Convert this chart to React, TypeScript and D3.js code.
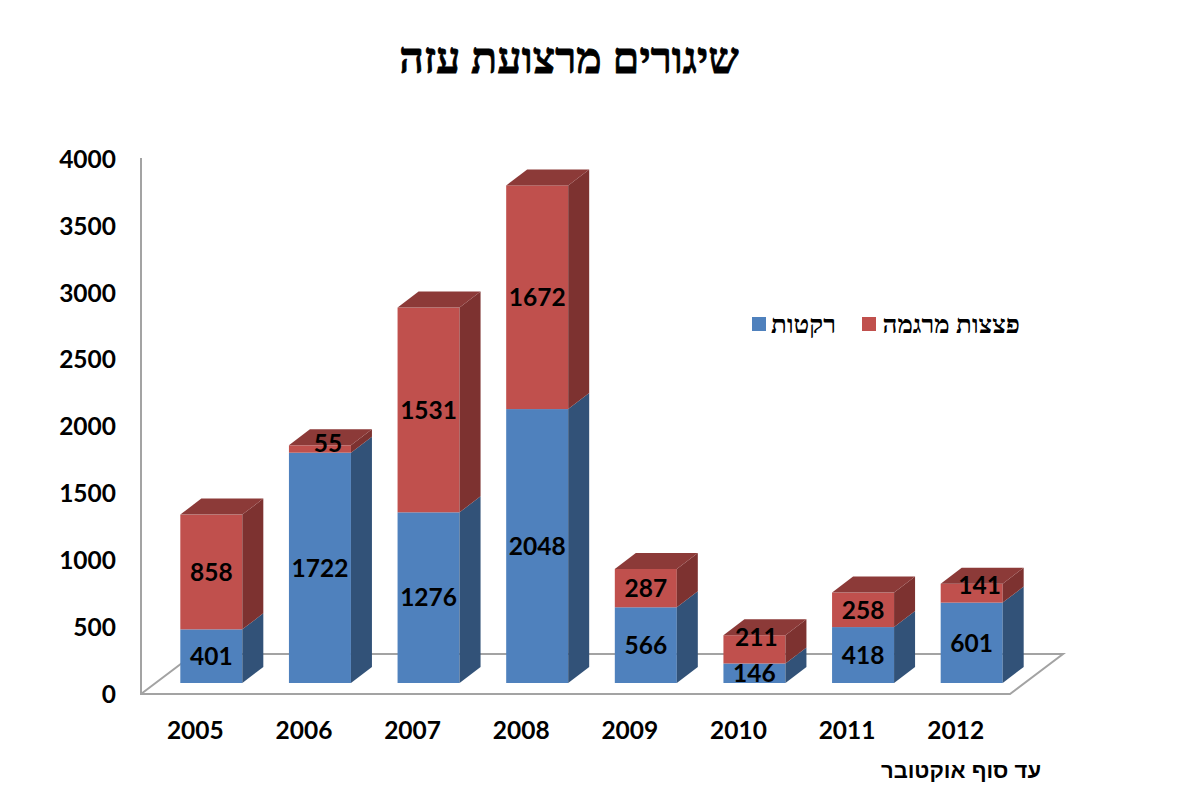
import * as d3 from 'd3';
import React from 'react';

const years = ['2005', '2006', '2007', '2008', '2009', '2010', '2011', '2012'];
const rockets = [401, 1722, 1276, 2048, 566, 146, 418, 601];
const mortars = [858, 55, 1531, 1672, 287, 211, 258, 141];
const yTicks = [0, 500, 1000, 1500, 2000, 2500, 3000, 3500, 4000];

const titleText = 'שיגורים מרצועת עזה';
const rocketsLabel = 'רקטות';
const mortarsLabel = 'פצצות מרגמה';
const noteText = 'עד סוף אוקטובר';

const w = 1199;
const h = 808;
const left = 141;
const right = 1010;
const floorY = 693;
const topY = 158;
const depthX = 21;
const depthY = 16;
const wallX = 53;
const wallY = 40;
const barW = 62;
const barShift = 16; // bars stand in the middle of the floor depth
const baseLift = 10;

const numFont = 'Lato, Carlito, sans-serif';
const hebFont = '"Liberation Serif", serif';

const colors = {
  rockets: { front: '#4f81bd', side: '#325278', top: '#3f6797' },
  mortars: { front: '#c0504d', side: '#7d3230', top: '#8c3a38' },
};

// labels that Excel moved off the segment centre because it is too thin
const labelNudge: Record<string, [number, number]> = {
  'mortars-55': [8, -6],
  'mortars-141': [8, -8],
  'mortars-211': [2, -12],
};

export default function App() {
  const x = d3.scaleBand<string>().domain(years).range([left, right]);
  const y = d3.scaleLinear().domain([0, 4000]).range([floorY, topY]);

  const rows = years.map((year, i) => ({ year, rockets: rockets[i], mortars: mortars[i] }));
  const series = d3.stack<any>().keys(['rockets', 'mortars'])(rows);

  const poly = d3.line();

  const bars: React.ReactNode[] = [];
  const labels: React.ReactNode[] = [];
  years.forEach((year, i) => {
    const x0 = (x(year) as number) + x.bandwidth() / 2 + barShift - barW / 2;
    const x1 = x0 + barW;
    series.forEach((s) => {
      const key = s.key as 'rockets' | 'mortars';
      const c = colors[key];
      const yb = y(s[i][0]) - baseLift;
      const yt = y(s[i][1]) - baseLift;
      bars.push(
        <g key={`${year}-${key}`}>
          <rect x={x0} y={yt} width={barW} height={yb - yt} fill={c.front} />
          <path
            d={poly([[x1, yb], [x1 + depthX, yb - depthY], [x1 + depthX, yt - depthY], [x1, yt]]) + 'Z'}
            fill={c.side}
          />
          {key === 'mortars' && (
            <path
              d={poly([[x0, yt], [x0 + depthX, yt - depthY], [x1 + depthX, yt - depthY], [x1, yt]]) + 'Z'}
              fill={c.top}
            />
          )}
        </g>,
      );
      const value = s[i][1] - s[i][0];
      const nudge = labelNudge[`${key}-${value}`] ?? [0, 0];
      labels.push(
        <text
          key={`l-${year}-${key}`}
          x={(x0 + x1) / 2 + nudge[0]}
          y={(yb + yt) / 2 + nudge[1]}
          dy='0.36em'
          textAnchor='middle'
          style={{ font: `700 24.5px ${numFont}` }}>
          {value}
        </text>,
      );
    });
  });

  return (
    <svg
      width={w}
      height={h}
      style={{ position: 'absolute', left: 0, top: 0, backgroundColor: 'white' }}>
      <text
        x={569}
        y={73}
        textAnchor='middle'
        direction='rtl'
        stroke='black'
        strokeWidth={0.8}
        style={{ font: `700 43px ${hebFont}` }}>
        {titleText}
      </text>

      <path
        d={
          poly([
            [left, floorY + 1],
            [left + wallX, floorY + 1 - wallY],
            [right + wallX, floorY + 1 - wallY],
            [right, floorY + 1],
            [left, floorY + 1],
            [left, topY],
          ]) ?? ''
        }
        fill='none'
        stroke='#a3a3a3'
        strokeWidth={2}
      />

      {bars}
      {labels}

      {yTicks.map((t) => (
        <text
          key={t}
          x={116}
          y={y(t) + 1}
          dy='0.36em'
          textAnchor='end'
          style={{ font: `700 24.5px ${numFont}` }}>
          {t}
        </text>
      ))}

      {years.map((year) => (
        <text
          key={year}
          x={(x(year) as number) + x.bandwidth() / 2}
          y={730}
          dy='0.36em'
          textAnchor='middle'
          style={{ font: `700 24.5px ${numFont}` }}>
          {year}
        </text>
      ))}

      <rect x={752} y={317} width={14} height={14} fill={colors.rockets.front} />
      <text x={836} y={333} textAnchor='start' direction='rtl' style={{ font: `700 26px ${hebFont}` }}>
        {rocketsLabel}
      </text>
      <rect x={862} y={317} width={14} height={14} fill={colors.mortars.front} />
      <text x={1020} y={333} textAnchor='start' direction='rtl' style={{ font: `700 26px ${hebFont}` }}>
        {mortarsLabel}
      </text>

      <text
        x={1041}
        y={778}
        textAnchor='start'
        direction='rtl'
        style={{ font: '700 22px "Liberation Sans", sans-serif' }}>
        {noteText}
      </text>
    </svg>
  );
}
